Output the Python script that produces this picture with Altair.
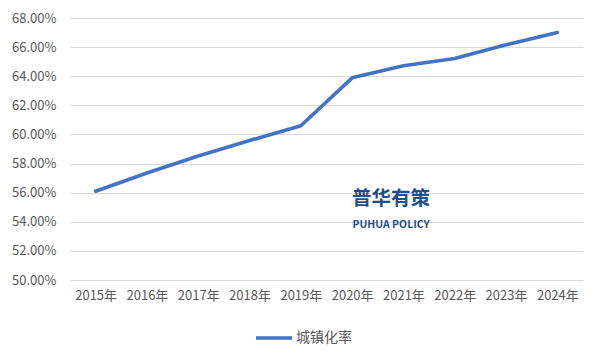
import altair as alt
import pandas as pd

years = ["2015年", "2016年", "2017年", "2018年", "2019年", "2020年", "2021年", "2022年", "2023年", "2024年"]
rates = [0.5610, 0.5735, 0.5852, 0.5958, 0.6060, 0.6389, 0.6472, 0.6522, 0.6616, 0.6700]
series_name = "城镇化率"
y_ticks = [0.50, 0.52, 0.54, 0.56, 0.58, 0.60, 0.62, 0.64, 0.66, 0.68]

df = pd.DataFrame({"year": years, "rate": rates, "series": [series_name] * len(years)})

FONT = "Noto Sans CJK SC"
TXT = "#595959"

line = alt.Chart(df).mark_line(strokeWidth=3.6, strokeCap="round", strokeJoin="round").encode(
    x=alt.X("year:N", sort=years, title=None,
            scale=alt.Scale(paddingInner=0, paddingOuter=0.5),
            axis=alt.Axis(labelAngle=0, ticks=False, domain=False, grid=False,
                          labelPadding=9, labelFontSize=13, labelColor=TXT, labelFont=FONT)),
    y=alt.Y("rate:Q", title=None,
            scale=alt.Scale(domain=[0.50, 0.68], nice=False, zero=False),
            axis=alt.Axis(values=y_ticks, format=".2%", ticks=False, domain=False,
                          gridColor="#d9d9d9", gridWidth=1, labelPadding=14,
                          labelFontSize=13, labelColor=TXT, labelFont=FONT)),
    color=alt.Color("series:N", scale=alt.Scale(range=["#4472c4"]),
                    legend=alt.Legend(title=None, orient="none", legendX=184, legendY=300,
                                      symbolType="stroke", symbolSize=1296, symbolStrokeWidth=3.6,
                                      labelFontSize=14, labelColor=TXT, labelFont=FONT,
                                      labelOffset=2)),
)

wm_df = pd.DataFrame({"t": ["普华有策"]})
wm1 = alt.Chart(wm_df).mark_text(font=FONT, fontSize=19.5, fontWeight="bold", color="#1f4e8c",
                                 align="center", baseline="middle").encode(
    text="t:N", x=alt.value(321), y=alt.value(181))
wm2_df = pd.DataFrame({"t": ["PUHUA POLICY"]})
wm2 = alt.Chart(wm2_df).mark_text(font=FONT, fontSize=10.5, fontWeight="bold", color="#1f4e8c",
                                  align="center", baseline="middle").encode(
    text="t:N", x=alt.value(321), y=alt.value(207))

chart = alt.layer(line, wm1, wm2).properties(
    width=513, height=262,
    autosize=alt.AutoSizeParams(type="none"),
    padding={"left": 62, "top": 10, "right": 10, "bottom": 73},
    background="white",
).configure_view(stroke=None)

chart.save("out.html", embed_options={"renderer": "svg", "actions": False})
